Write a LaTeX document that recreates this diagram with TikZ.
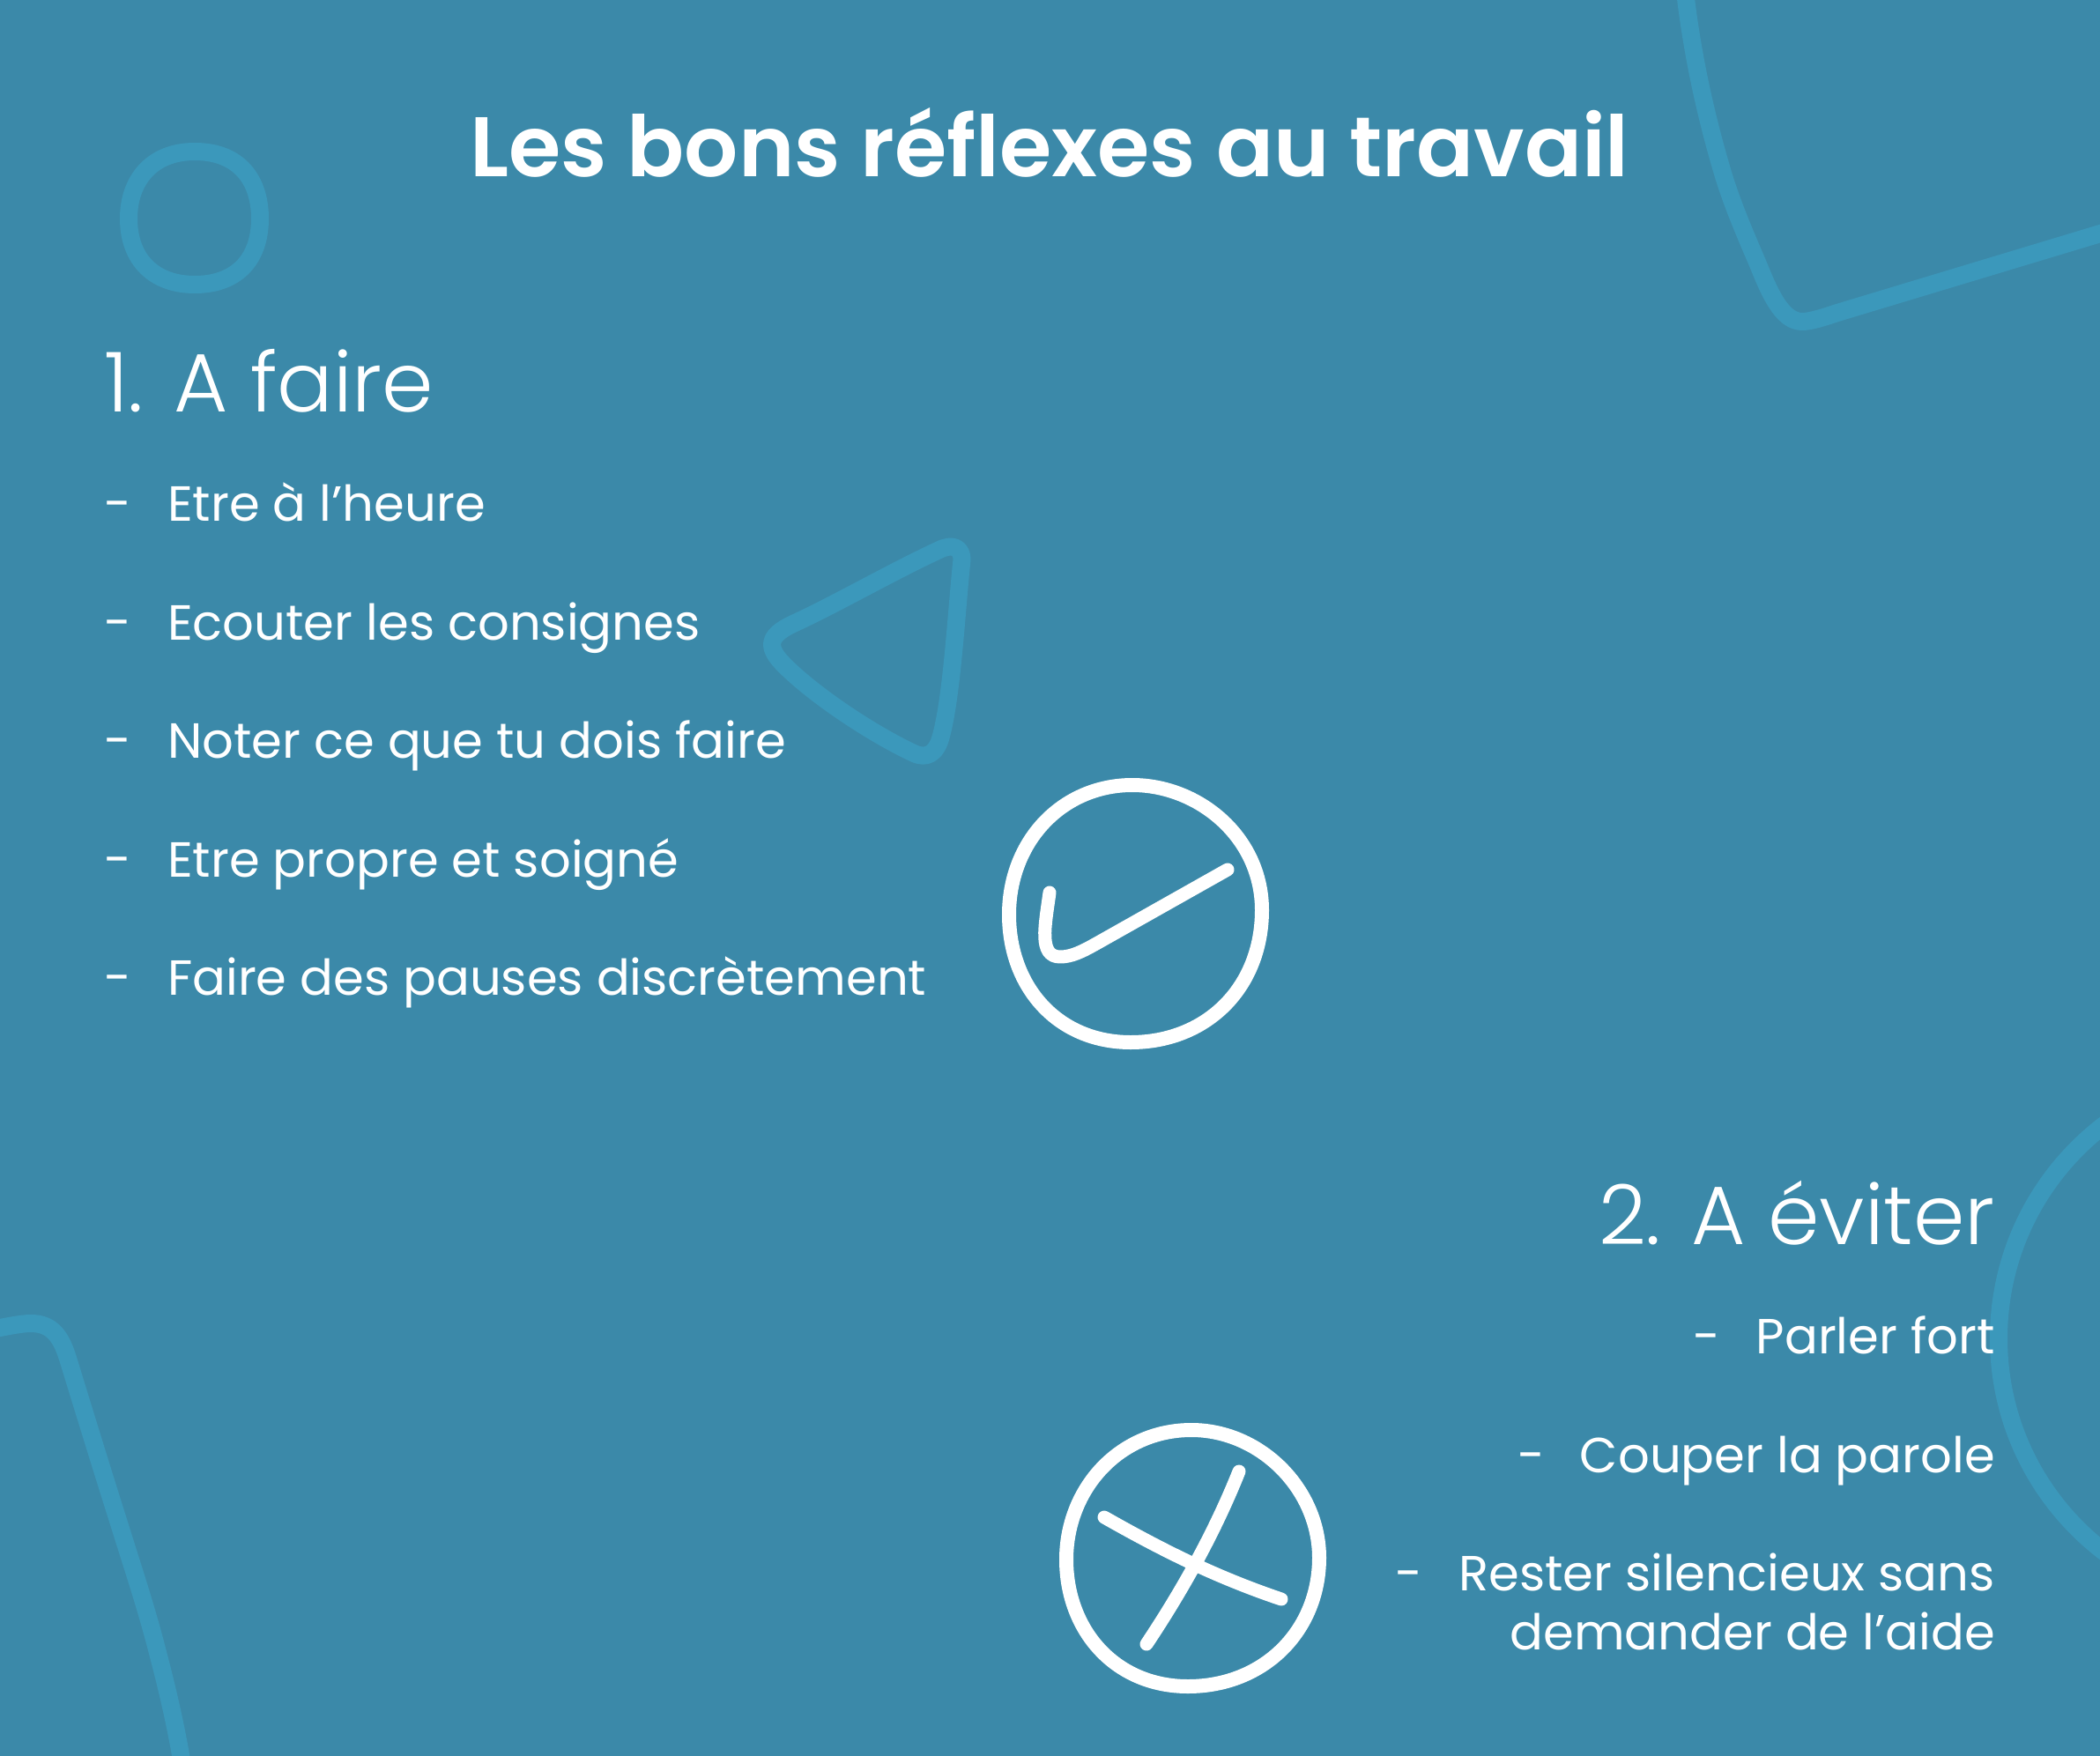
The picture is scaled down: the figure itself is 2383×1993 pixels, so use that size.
\documentclass[tikz,border=0pt]{standalone}
\usepackage{fontspec}
\setmainfont{Poppins}
\newfontfamily\titlefont{Poppins SemiBold}
\newfontfamily\headfont{Poppins Light}
\definecolor{bg}{HTML}{3B89A9}
\definecolor{deco}{HTML}{3B98BB}
\tikzset{
  decoline/.style={draw=deco,line width=20pt,line cap=round,line join=round},
  iconline/.style={draw=white,line width=16pt,line cap=round,line join=round},
  markline/.style={draw=white,line width=15pt,line cap=round,line join=round},
  title/.style={text=white,font=\titlefont\fontsize{96}{106}\selectfont,anchor=base,inner sep=0pt},
  head/.style={text=white,font=\headfont\fontsize{94}{104}\selectfont,inner sep=0pt,anchor=base west},
  headr/.style={head,anchor=base east},
  bodyl/.style={text=white,font=\fontsize{56}{66}\selectfont,inner sep=0pt,anchor=base west},
  bodyr/.style={bodyl,anchor=base east},
}
\begin{document}
\begin{tikzpicture}[x=1pt,y=-1pt]
\fill[bg] (0,0) rectangle (2383,1993);
\useasboundingbox (0,0) rectangle (2383,1993);
\begin{scope}
\clip (0,0) rectangle (2383,1993);
% ring, top left
\path[decoline] (221,172) .. controls (272,172) and (295,205) .. (295,248) .. controls (295,295) and (268,323) .. (221,323) .. controls (175,323) and (146,295) .. (146,248) .. controls (146,205) and (172,172) .. (221,172) -- cycle;
% corner, top right
\path[decoline] (1912,-10) .. controls (1920,60) and (1935,130) .. (1956,200) .. controls (1967,235) and (1980,265) .. (1995,300) .. controls (2008,332) and (2022,365) .. (2045,365) .. controls (2055,365) and (2070,360) .. (2085,355) -- (2400,260);
% triangle
\path[decoline] (900,708) .. controls (950,685) and (1010,650) .. (1066,624) .. controls (1080,617) and (1094,620) .. (1091,640) .. controls (1085,700) and (1080,790) .. (1068,835) .. controls (1063,855) and (1052,862) .. (1037,855) .. controls (990,833) and (925,790) .. (890,755) .. controls (870,735) and (870,722) .. (900,708) -- cycle;
% corner, bottom left
\path[decoline] (-10,1509) .. controls (10,1505) and (25,1502) .. (35,1502) .. controls (60,1502) and (70,1518) .. (78,1545) .. controls (97,1607) and (117,1672) .. (136,1732) .. controls (150,1777) and (165,1822) .. (177,1868) .. controls (188,1910) and (198,1950) .. (207,2003);
% big circle, right
\path[decoline] (2573,1519) circle (305);
\end{scope}
\node[title] (t) at (1191,201) {Les bons réflexes au travail};
\node[head] (h1) at (118,467) {1. A faire};
\node[headr] (h2) at (2264,1412) {2. A éviter};
\node[bodyl] (a0) at (118,591) {-};
\node[bodyl] (a1) at (190,591) {Etre à l’heure};
\node[bodyl] (b0) at (118,726) {-};
\node[bodyl] (b1) at (190,726) {Ecouter les consignes};
\node[bodyl] (c0) at (118,860) {-};
\node[bodyl] (c1) at (190,860) {Noter ce que tu dois faire};
\node[bodyl] (d0) at (118,995) {-};
\node[bodyl] (d1) at (190,995) {Etre propre et soigné};
\node[bodyl] (e0) at (118,1129) {-};
\node[bodyl] (e1) at (190,1129) {Faire des pauses discrètement};
\node[bodyl] (f0) at (1921,1536) {-};
\node[bodyr] (f1) at (2264,1536) {Parler fort};
\node[bodyl] (g0) at (1722,1671) {-};
\node[bodyr] (g1) at (2264,1671) {Couper la parole};
\node[bodyl] (i0) at (1583,1805) {-};
\node[bodyr] (i1) at (2264,1805) {Rester silencieux sans};
\node[bodyr] (i2) at (2264,1872) {demander de l’aide};
% check icon
\path[iconline] (1285,891) .. controls (1360,891) and (1432,950) .. (1432,1033) .. controls (1432,1120) and (1370,1183) .. (1283,1183) .. controls (1200,1183) and (1145,1120) .. (1145,1038) .. controls (1145,955) and (1205,891) .. (1285,891) -- cycle;
\path[markline] (1191,1013) .. controls (1186,1050) and (1178,1086) .. (1203,1086) .. controls (1216,1086) and (1228,1080) .. (1244,1071) -- (1393,987);
% cross icon
\path[iconline] (1352,1623) .. controls (1430,1623) and (1497,1690) .. (1497,1768) .. controls (1497,1850) and (1435,1914) .. (1348,1914) .. controls (1265,1914) and (1210,1850) .. (1210,1770) .. controls (1210,1690) and (1270,1623) .. (1352,1623) -- cycle;
\path[markline] (1406,1670) .. controls (1380,1735) and (1345,1800) .. (1301,1866);
\path[markline] (1253,1722) .. controls (1320,1760) and (1380,1790) .. (1454,1815);
\end{tikzpicture}
\end{document}
